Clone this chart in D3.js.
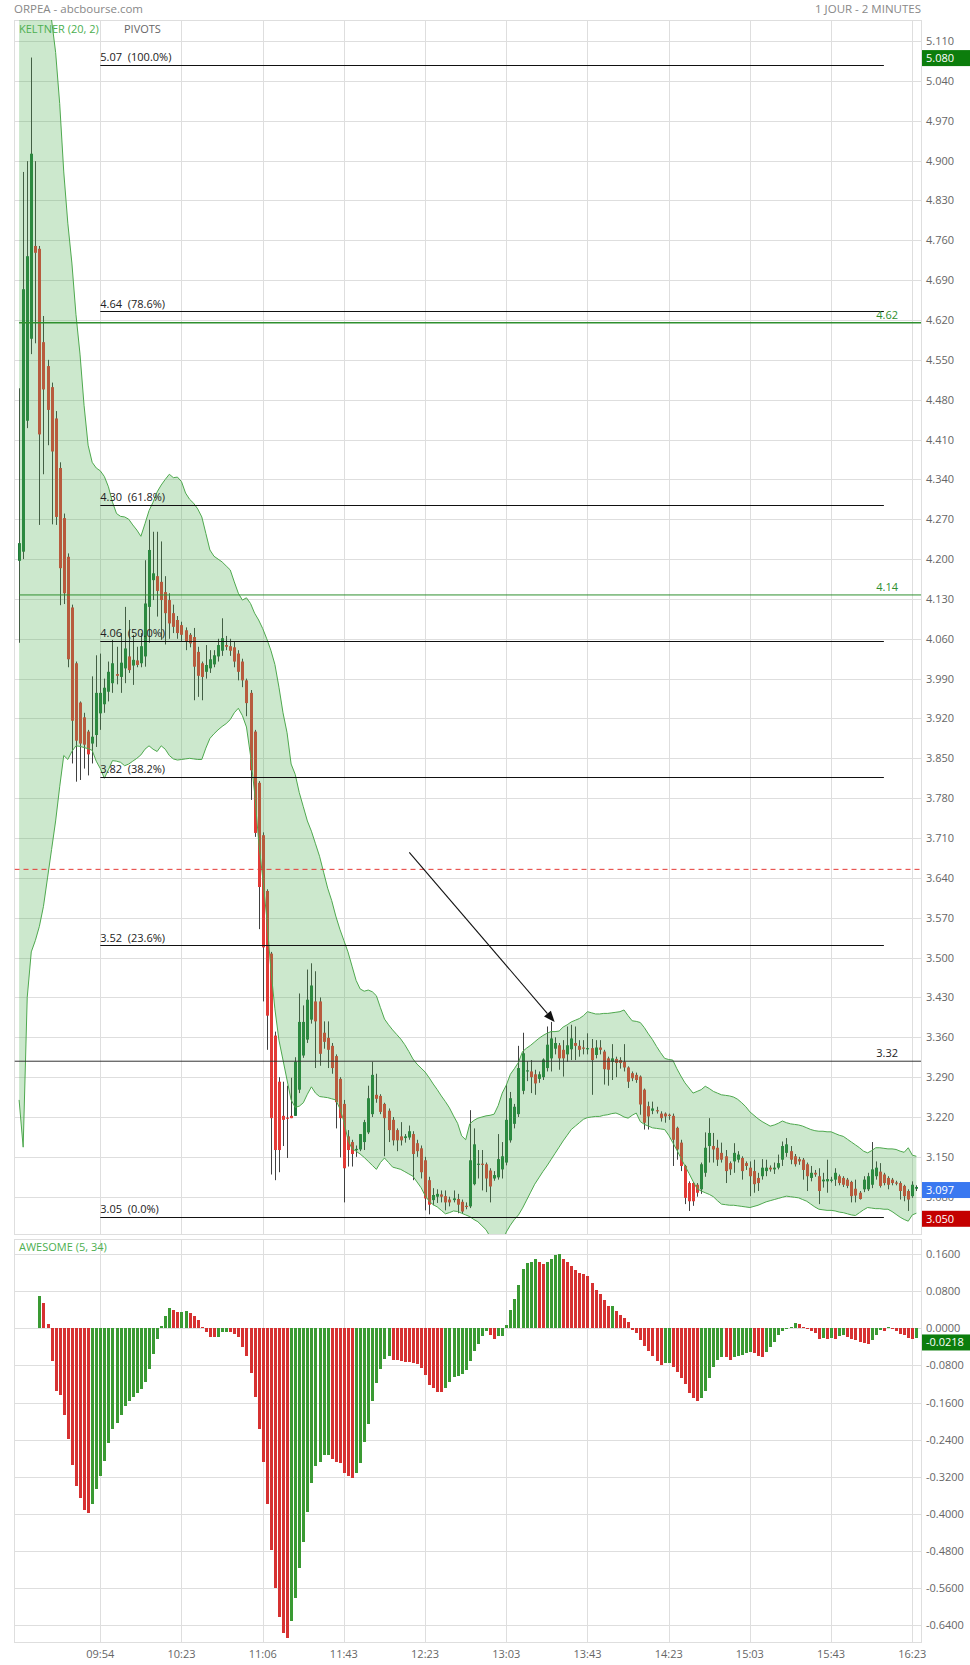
<!DOCTYPE html>
<html><head><meta charset="utf-8">
<script src="https://cdn.jsdelivr.net/npm/d3@7"></script>
<style>
html,body{margin:0;padding:0;background:#fff;}
svg{display:block;font-family:"Open Sans",sans-serif;}
</style></head>
<body><svg id="c" width="970" height="1665"></svg>
<script>
// ---------------- DATA ----------------
const title = "ORPEA - abcbourse.com";
const period = "1 JOUR - 2 MINUTES";
const timeLabels = ["09:54","10:23","11:06","11:43","12:23","13:03","13:43","14:23","15:03","15:43","16:23"];
const timeLabelIdx = [20,40,60,80,100,120,140,160,180,200,220];
const priceTicks = [5.110,5.040,4.970,4.900,4.830,4.760,4.690,4.620,4.550,4.480,4.410,4.340,4.270,4.200,4.130,4.060,3.990,3.920,3.850,3.780,3.710,3.640,3.570,3.500,3.430,3.360,3.290,3.220,3.150,3.080];
const aoTicks = [0.16,0.08,0,-0.08,-0.16,-0.24,-0.32,-0.40,-0.48,-0.56,-0.64];

const open = [4.197,4.213,4.443,4.587,4.750,4.745,4.581,4.539,4.502,4.447,
4.360,4.272,4.204,4.115,4.017,3.948,3.922,3.897,3.876,3.891,
3.929,3.945,3.967,3.982,3.998,3.993,4.008,4.029,4.013,4.022,
4.017,4.029,4.116,4.163,4.170,4.160,4.142,4.128,4.105,4.093,
4.084,4.075,4.067,4.063,4.037,4.017,4.002,4.008,4.015,4.029,
4.039,4.049,4.047,4.045,4.034,4.020,3.987,3.965,3.897,3.807,
3.715,3.617,3.507,3.363,3.282,3.222,3.219,3.222,3.222,3.268,
3.328,3.356,3.391,3.423,3.423,3.368,3.359,3.345,3.327,3.287,
3.243,3.186,3.176,3.162,3.163,3.176,3.193,3.225,3.259,3.257,
3.243,3.231,3.215,3.197,3.186,3.183,3.184,3.190,3.174,3.165,
3.144,3.109,3.074,3.080,3.084,3.081,3.075,3.074,3.076,3.071,
3.064,3.063,3.102,3.137,3.138,3.137,3.126,3.112,3.114,3.128,
3.140,3.179,3.208,3.225,3.266,3.300,3.300,3.295,3.287,3.290,
3.306,3.323,3.340,3.346,3.338,3.330,3.339,3.350,3.345,3.342,
3.339,3.341,3.329,3.342,3.335,3.323,3.317,3.322,3.320,3.317,
3.307,3.297,3.294,3.291,3.268,3.239,3.231,3.232,3.226,3.226,
3.224,3.222,3.201,3.175,3.134,3.104,3.104,3.101,3.093,3.122,
3.169,3.169,3.166,3.157,3.151,3.139,3.142,3.145,3.148,3.139,
3.131,3.125,3.113,3.116,3.125,3.131,3.128,3.131,3.145,3.157,
3.160,3.151,3.146,3.145,3.137,3.113,3.122,3.116,3.107,3.107,
3.109,3.110,3.116,3.113,3.110,3.106,3.094,3.087,3.093,3.093,
3.101,3.116,3.124,3.119,3.113,3.110,3.105,3.104,3.099,3.090,
3.081,3.094];
const high = [4.500,4.880,4.899,5.081,4.899,4.750,4.627,4.550,4.510,4.460,
4.370,4.280,4.210,4.120,4.020,3.950,3.930,3.900,3.994,4.031,
4.034,3.990,4.020,4.058,4.046,4.070,4.116,4.093,4.067,4.046,
4.070,4.198,4.269,4.248,4.248,4.231,4.170,4.140,4.120,4.100,
4.090,4.080,4.070,4.079,4.046,4.020,4.049,4.040,4.040,4.060,
4.096,4.065,4.060,4.055,4.040,4.025,3.990,3.970,3.900,3.810,
3.720,3.620,3.510,3.370,3.290,3.282,3.275,3.289,3.325,3.437,
3.416,3.479,3.490,3.476,3.430,3.388,3.388,3.350,3.330,3.290,
3.250,3.197,3.180,3.170,3.190,3.215,3.275,3.317,3.296,3.260,
3.245,3.235,3.220,3.200,3.211,3.190,3.205,3.195,3.180,3.170,
3.150,3.115,3.095,3.093,3.091,3.091,3.080,3.091,3.085,3.075,
3.070,3.232,3.200,3.162,3.162,3.140,3.130,3.125,3.190,3.176,
3.278,3.264,3.243,3.345,3.368,3.318,3.320,3.303,3.300,3.323,
3.379,3.387,3.360,3.350,3.355,3.379,3.382,3.379,3.355,3.355,
3.367,3.357,3.355,3.355,3.338,3.326,3.348,3.326,3.325,3.348,
3.309,3.300,3.298,3.293,3.270,3.247,3.247,3.238,3.230,3.228,
3.226,3.226,3.203,3.180,3.136,3.107,3.106,3.104,3.140,3.193,
3.218,3.192,3.180,3.175,3.162,3.142,3.174,3.160,3.151,3.142,
3.142,3.145,3.122,3.146,3.145,3.135,3.140,3.154,3.177,3.183,
3.169,3.155,3.150,3.148,3.140,3.134,3.127,3.130,3.122,3.145,
3.115,3.130,3.119,3.116,3.113,3.108,3.110,3.090,3.116,3.122,
3.176,3.142,3.139,3.122,3.116,3.113,3.108,3.107,3.101,3.093,
3.107,3.100];
const low = [4.053,4.200,4.430,4.560,4.579,4.260,4.349,4.400,4.261,4.260,
4.119,4.121,4.010,3.841,3.809,3.812,3.832,3.820,3.841,3.870,
3.900,3.930,3.950,3.965,3.980,3.965,3.982,4.000,3.979,4.010,
4.010,4.011,4.053,4.128,4.099,4.058,4.050,4.060,4.070,4.060,
4.055,4.040,4.045,3.952,3.958,3.952,3.990,4.000,4.010,4.020,
4.030,4.040,4.030,4.010,3.987,3.975,3.924,3.777,3.712,3.550,
3.423,3.338,3.119,3.109,3.123,3.169,3.148,3.218,3.222,3.262,
3.324,3.350,3.384,3.306,3.310,3.340,3.306,3.296,3.200,3.149,
3.070,3.133,3.133,3.150,3.160,3.162,3.190,3.220,3.245,3.225,
3.151,3.176,3.170,3.160,3.170,3.175,3.180,3.109,3.150,3.112,
3.056,3.049,3.065,3.069,3.070,3.056,3.063,3.070,3.051,3.050,
3.058,3.060,3.100,3.112,3.091,3.088,3.070,3.108,3.110,3.112,
3.135,3.175,3.200,3.220,3.260,3.283,3.262,3.259,3.280,3.285,
3.300,3.300,3.330,3.303,3.291,3.317,3.320,3.320,3.326,3.330,
3.330,3.259,3.323,3.330,3.277,3.275,3.285,3.290,3.305,3.300,
3.271,3.283,3.280,3.224,3.198,3.198,3.225,3.226,3.212,3.210,
3.215,3.134,3.145,3.125,3.067,3.055,3.064,3.080,3.085,3.115,
3.140,3.140,3.134,3.140,3.104,3.118,3.122,3.140,3.110,3.127,
3.081,3.087,3.090,3.110,3.116,3.124,3.120,3.128,3.134,3.150,
3.137,3.133,3.136,3.110,3.090,3.107,3.115,3.067,3.096,3.087,
3.105,3.099,3.100,3.097,3.095,3.070,3.070,3.075,3.088,3.090,
3.095,3.110,3.096,3.100,3.093,3.100,3.100,3.075,3.072,3.055,
3.078,3.090];
const close = [4.228,4.674,4.732,4.912,4.738,4.419,4.498,4.462,4.389,4.274,
4.184,4.140,4.024,3.916,3.881,3.876,3.874,3.857,3.888,3.965,
3.965,3.974,4.002,4.017,3.995,4.018,4.043,4.005,4.023,4.014,
4.047,4.122,4.216,4.175,4.144,4.128,4.105,4.087,4.081,4.070,
4.067,4.055,4.052,4.011,3.995,3.993,4.014,4.024,4.031,4.049,
4.061,4.046,4.039,4.020,4.002,3.987,3.947,3.829,3.719,3.624,
3.518,3.398,3.218,3.162,3.162,3.215,3.217,3.218,3.317,3.387,
3.387,3.426,3.451,3.388,3.331,3.352,3.338,3.306,3.246,3.218,
3.130,3.162,3.155,3.164,3.190,3.211,3.253,3.294,3.252,3.229,
3.218,3.197,3.179,3.179,3.179,3.186,3.195,3.155,3.160,3.123,
3.077,3.066,3.083,3.085,3.080,3.070,3.070,3.077,3.066,3.054,
3.063,3.144,3.172,3.138,3.137,3.112,3.098,3.118,3.146,3.151,
3.215,3.253,3.238,3.306,3.332,3.302,3.290,3.279,3.295,3.321,
3.347,3.358,3.350,3.323,3.323,3.346,3.358,3.345,3.338,3.340,
3.341,3.320,3.342,3.338,3.304,3.303,3.323,3.315,3.315,3.307,
3.282,3.288,3.285,3.242,3.210,3.221,3.235,3.231,3.218,3.221,
3.222,3.180,3.163,3.134,3.078,3.072,3.072,3.087,3.137,3.166,
3.192,3.163,3.145,3.145,3.125,3.128,3.157,3.154,3.125,3.134,
3.116,3.102,3.104,3.131,3.131,3.128,3.131,3.139,3.169,3.172,
3.145,3.137,3.142,3.127,3.116,3.122,3.119,3.090,3.110,3.111,
3.110,3.122,3.104,3.101,3.099,3.081,3.082,3.076,3.110,3.116,
3.128,3.131,3.099,3.104,3.101,3.104,3.103,3.090,3.081,3.075,
3.101,3.097];

// Keltner (20, 2) channel, upper / lower
const keltnerUpper = [5.80,5.70,5.60,5.52,5.45,5.38,5.30,5.22,5.147,5.09,
5.00,4.88,4.79,4.72,4.63,4.56,4.47,4.40,4.37,4.36,
4.355,4.345,4.327,4.30,4.28,4.275,4.274,4.270,4.26,4.251,
4.240,4.262,4.285,4.300,4.318,4.330,4.340,4.349,4.343,4.344,
4.336,4.316,4.305,4.298,4.288,4.274,4.245,4.216,4.205,4.200,
4.195,4.188,4.181,4.160,4.140,4.128,4.132,4.122,4.105,4.093,
4.078,4.060,4.040,4.015,3.975,3.930,3.895,3.840,3.822,3.790,
3.765,3.740,3.722,3.700,3.678,3.650,3.622,3.600,3.573,3.550,
3.530,3.510,3.485,3.460,3.445,3.441,3.443,3.440,3.433,3.412,
3.392,3.382,3.373,3.365,3.357,3.347,3.335,3.322,3.313,3.306,
3.299,3.289,3.278,3.268,3.257,3.247,3.236,3.222,3.209,3.187,
3.180,3.208,3.214,3.218,3.220,3.222,3.223,3.225,3.240,3.262,
3.276,3.295,3.305,3.316,3.335,3.341,3.346,3.352,3.358,3.363,
3.367,3.370,3.370,3.371,3.378,3.382,3.387,3.390,3.393,3.398,
3.405,3.403,3.401,3.401,3.402,3.402,3.403,3.404,3.405,3.408,
3.398,3.389,3.388,3.386,3.377,3.366,3.356,3.344,3.333,3.323,
3.321,3.320,3.305,3.292,3.280,3.271,3.262,3.265,3.268,3.274,
3.270,3.265,3.262,3.259,3.258,3.257,3.255,3.251,3.245,3.238,
3.229,3.223,3.217,3.212,3.208,3.204,3.206,3.209,3.213,3.210,
3.208,3.207,3.206,3.204,3.201,3.198,3.196,3.195,3.195,3.194,
3.194,3.191,3.188,3.186,3.181,3.176,3.171,3.166,3.160,3.157,
3.161,3.166,3.166,3.165,3.164,3.164,3.163,3.160,3.158,3.166,
3.153,3.151];
const keltnerLower = [3.25,3.167,3.43,3.51,3.53,3.555,3.59,3.64,3.69,3.74,
3.80,3.855,3.848,3.862,3.872,3.871,3.869,3.867,3.864,3.845,
3.832,3.815,3.830,3.846,3.845,3.843,3.837,3.840,3.845,3.850,
3.856,3.866,3.872,3.866,3.862,3.872,3.866,3.855,3.849,3.847,
3.848,3.849,3.850,3.849,3.848,3.848,3.868,3.885,3.893,3.900,
3.906,3.911,3.918,3.930,3.938,3.925,3.905,3.855,3.790,3.705,
3.640,3.570,3.480,3.410,3.355,3.320,3.285,3.250,3.237,3.239,
3.245,3.260,3.273,3.262,3.256,3.255,3.254,3.252,3.250,3.235,
3.212,3.180,3.164,3.160,3.155,3.149,3.142,3.135,3.128,3.140,
3.148,3.140,3.132,3.130,3.128,3.124,3.120,3.116,3.106,3.096,
3.082,3.072,3.066,3.062,3.056,3.050,3.052,3.055,3.054,3.051,
3.048,3.045,3.040,3.036,3.029,3.022,3.010,3.000,2.995,3.000,
3.018,3.030,3.040,3.048,3.060,3.074,3.088,3.102,3.113,3.124,
3.134,3.145,3.156,3.167,3.178,3.188,3.198,3.204,3.210,3.216,
3.219,3.220,3.221,3.221,3.223,3.224,3.226,3.227,3.224,3.220,
3.218,3.223,3.227,3.212,3.207,3.204,3.201,3.200,3.199,3.198,
3.188,3.175,3.162,3.148,3.134,3.121,3.107,3.094,3.090,3.087,
3.084,3.080,3.073,3.067,3.066,3.065,3.065,3.064,3.063,3.062,
3.061,3.063,3.065,3.068,3.071,3.073,3.075,3.077,3.079,3.081,
3.080,3.079,3.078,3.075,3.072,3.067,3.062,3.058,3.057,3.056,
3.056,3.055,3.053,3.052,3.050,3.048,3.047,3.052,3.057,3.061,
3.060,3.059,3.059,3.058,3.058,3.054,3.049,3.044,3.040,3.037,
3.048,3.051];

// Awesome oscillator (5, 34); first 5 candles have no value
const awesome = [null,null,null,null,null,0.0697,0.0547,0.0093,-0.0697,-0.135,
-0.144,-0.187,-0.239,-0.295,-0.339,-0.365,-0.391,-0.398,-0.378,-0.346,
-0.318,-0.285,-0.247,-0.217,-0.203,-0.187,-0.167,-0.157,-0.147,-0.139,
-0.130,-0.115,-0.087,-0.055,-0.024,0.006,0.027,0.044,0.040,0.035,
0.036,0.037,0.033,0.027,0.018,0.003,-0.007,-0.018,-0.019,-0.018,
-0.008,-0.007,-0.008,-0.012,-0.018,-0.040,-0.059,-0.096,-0.147,-0.216,
-0.288,-0.379,-0.478,-0.560,-0.622,-0.656,-0.667,-0.631,-0.581,-0.516,
-0.460,-0.395,-0.333,-0.296,-0.288,-0.273,-0.272,-0.281,-0.288,-0.290,
-0.311,-0.318,-0.322,-0.311,-0.290,-0.244,-0.206,-0.156,-0.117,-0.087,
-0.065,-0.059,-0.068,-0.069,-0.070,-0.072,-0.073,-0.074,-0.076,-0.085,
-0.100,-0.122,-0.128,-0.137,-0.138,-0.128,-0.115,-0.104,-0.102,-0.098,
-0.089,-0.070,-0.048,-0.033,-0.016,-0.005,-0.014,-0.022,-0.017,-0.016,
0.007,0.040,0.063,0.094,0.128,0.140,0.143,0.150,0.143,0.138,
0.143,0.150,0.159,0.160,0.150,0.143,0.135,0.126,0.120,0.118,
0.113,0.097,0.083,0.074,0.061,0.048,0.049,0.037,0.028,0.022,
0.014,-0.004,-0.009,-0.025,-0.038,-0.048,-0.060,-0.070,-0.078,-0.075,
-0.074,-0.083,-0.093,-0.106,-0.120,-0.139,-0.151,-0.156,-0.150,-0.134,
-0.106,-0.083,-0.068,-0.061,-0.062,-0.068,-0.061,-0.059,-0.057,-0.054,
-0.050,-0.054,-0.059,-0.061,-0.052,-0.040,-0.029,-0.014,-0.005,-0.001,
0.004,0.011,0.009,0.004,-0.001,-0.006,-0.011,-0.022,-0.021,-0.022,
-0.021,-0.022,-0.016,-0.015,-0.018,-0.022,-0.025,-0.029,-0.032,-0.033,
-0.025,-0.014,-0.004,-0.005,0.003,0.000,-0.006,-0.012,-0.015,-0.020,
-0.023,-0.0218];

// Fibonacci retracement levels
const fibPrices = [5.068,4.635,4.295,4.0565,3.818,3.522,3.045];
const fibLabels = ["5.07  (100.0%)","4.64  (78.6%)","4.30  (61.8%)","4.06  (50.0%)","3.82  (38.2%)","3.52  (23.6%)","3.05  (0.0%)"];
const fibRange = [20, 213];           // candle index span of the retracement
// Pivots
const pivotPrices = [4.615, 4.137];
const pivotLabels = ["4.62", "4.14"];
const levelPrice = 3.318, levelLabel = "3.32";
const refPrice = 3.655;               // dashed reference line
const lastPrice = 3.097, lowPrice = 3.050, highPrice = 5.080, lastAO = -0.0218;
const arrowFrom = {i: 96.1, p: 3.685}, arrowTo = {i: 131.9, p: 3.387};

// ---------------- LAYOUT ----------------
const L = 14.5, R = 921;
const mainTop = 20, mainBot = 1234;
const aoTop = 1239, aoBot = 1642;
const svg = d3.select("#c");

const x = d3.scaleLinear().domain([0, 221]).range([19.1, 19.1 + 221 * 4.06]);
const y = d3.scaleLinear().domain([3.0145, 5.1469]).range([mainBot, mainTop]);
const ya = d3.scaleLinear().domain([-0.676, 0.1926]).range([aoBot, aoTop]);
const n = open.length;
const idx = d3.range(n);

const gridC = "#dedede", textC = "#666";

// header
svg.append("text").attr("x", 14).attr("y", 13).attr("font-size", 11.5).attr("fill", "#888").text(title);
svg.append("text").attr("x", R).attr("y", 13).attr("text-anchor", "end").attr("font-size", 11.5).attr("fill", "#888").text(period);

// clip paths
const defs = svg.append("defs");
defs.append("clipPath").attr("id", "mclip").append("rect").attr("x", L).attr("y", mainTop).attr("width", R - L).attr("height", mainBot - mainTop);
defs.append("clipPath").attr("id", "aclip").append("rect").attr("x", L).attr("y", aoTop).attr("width", R - L).attr("height", aoBot - aoTop);

function panelGrid(top, bot, scale, ticks) {
  const g = svg.append("g").attr("shape-rendering", "crispEdges");
  g.selectAll(".v").data(timeLabelIdx).join("line")
    .attr("x1", d => Math.round(x(d)) + 0.5).attr("x2", d => Math.round(x(d)) + 0.5)
    .attr("y1", top).attr("y2", bot).attr("stroke", gridC);
  g.selectAll(".h").data(ticks).join("line")
    .attr("x1", L).attr("x2", R)
    .attr("y1", d => Math.round(scale(d)) + 0.5).attr("y2", d => Math.round(scale(d)) + 0.5)
    .attr("stroke", gridC);
  g.append("rect").attr("x", L).attr("y", top).attr("width", R - L).attr("height", bot - top)
    .attr("fill", "none").attr("stroke", gridC);
}
panelGrid(mainTop, mainBot, y, priceTicks);
panelGrid(aoTop, aoBot, ya, aoTicks);

// ---------- main panel ----------
const main = svg.append("g").attr("clip-path", "url(#mclip)");

// candles
const cg = main.append("g");
cg.selectAll("line.w").data(idx).join("line")
  .attr("x1", i => Math.round(x(i)) + 0.5).attr("x2", i => Math.round(x(i)) + 0.5)
  .attr("y1", i => y(high[i])).attr("y2", i => y(low[i]))
  .attr("stroke", "#404040").attr("stroke-width", 1);
cg.selectAll("rect.b").data(idx).join("rect")
  .attr("x", i => Math.round(x(i)) - 1).attr("width", 3)
  .attr("y", i => y(Math.max(open[i], close[i])))
  .attr("height", i => Math.max(1.2, Math.abs(y(open[i]) - y(close[i]))))
  .attr("fill", i => close[i] >= open[i] ? "#1f7a3a" : "#e23a36");

// Keltner band (semi-transparent, over candles)
main.append("path").datum(idx)
  .attr("d", d3.area().x(i => x(i)).y0(i => y(keltnerLower[i])).y1(i => y(keltnerUpper[i])))
  .attr("fill", "rgba(76,175,80,0.285)");
main.append("path").datum(idx)
  .attr("d", d3.line().x(i => x(i)).y(i => y(keltnerUpper[i])))
  .attr("fill", "none").attr("stroke", "#4ea84e").attr("stroke-width", 1);
main.append("path").datum(idx)
  .attr("d", d3.line().x(i => x(i)).y(i => y(keltnerLower[i])))
  .attr("fill", "none").attr("stroke", "#4ea84e").attr("stroke-width", 1);

// reference dashed line
main.append("line").attr("x1", L).attr("x2", R).attr("y1", y(refPrice)).attr("y2", y(refPrice))
  .attr("stroke", "#e53935").attr("stroke-width", 1).attr("stroke-dasharray", "5,4");

// pivots
pivotPrices.forEach((p, k) => {
  main.append("line").attr("x1", x(0)).attr("x2", R).attr("y1", y(p)).attr("y2", y(p))
    .attr("stroke", "#2f8f2f").attr("stroke-width", k === 0 ? 1.6 : 1);
  svg.append("text").attr("x", 898).attr("y", y(p) - 4).attr("text-anchor", "end")
    .attr("font-size", 11).attr("fill", "#2f8f2f").text(pivotLabels[k]);
});
main.append("line").attr("x1", L).attr("x2", R).attr("y1", y(levelPrice)).attr("y2", y(levelPrice))
  .attr("stroke", "#333").attr("stroke-width", 1);
svg.append("text").attr("x", 898).attr("y", y(levelPrice) - 4).attr("text-anchor", "end")
  .attr("font-size", 11).attr("fill", "#222").text(levelLabel);

// fib lines
fibPrices.forEach((p, k) => {
  main.append("line").attr("x1", x(fibRange[0])).attr("x2", x(fibRange[1]))
    .attr("y1", Math.round(y(p)) + 0.5).attr("y2", Math.round(y(p)) + 0.5)
    .attr("stroke", "#111").attr("stroke-width", 1.2);
  svg.append("text").attr("x", x(fibRange[0])).attr("y", y(p) - 3.5)
    .attr("font-size", 11).attr("fill", "#222").style("white-space", "pre").text(fibLabels[k]);
});

// arrow
{
  const x1 = x(arrowFrom.i), y1 = y(arrowFrom.p), x2 = x(arrowTo.i), y2 = y(arrowTo.p);
  const ang = Math.atan2(y2 - y1, x2 - x1), len = 11, wid = 4.5;
  const bx = x2 - len * Math.cos(ang), by = y2 - len * Math.sin(ang);
  main.append("line").attr("x1", x1).attr("y1", y1).attr("x2", bx).attr("y2", by)
    .attr("stroke", "#111").attr("stroke-width", 1.1);
  main.append("path").attr("d", `M${x2},${y2}L${bx - wid * Math.sin(ang)},${by + wid * Math.cos(ang)}L${bx + wid * Math.sin(ang)},${by - wid * Math.cos(ang)}Z`)
    .attr("fill", "#111");
}

// legend texts
svg.append("text").attr("x", 19).attr("y", 33).attr("font-size", 11).attr("fill", "#4caf50").text("KELTNER (20, 2)");
svg.append("text").attr("x", 124).attr("y", 33).attr("font-size", 11).attr("fill", "#666").text("PIVOTS");

// price axis labels
svg.append("g").selectAll("text").data(priceTicks).join("text")
  .attr("x", 926).attr("y", d => y(d) + 4).attr("font-size", 11).attr("fill", textC)
  .text(d => d.toFixed(3));

function valueBox(yc, label, color) {
  svg.append("rect").attr("x", 922).attr("y", yc - 8).attr("width", 48).attr("height", 16).attr("fill", color);
  svg.append("text").attr("x", 926).attr("y", yc + 4).attr("font-size", 11).attr("fill", "#fff").text(label);
}
valueBox(y(highPrice), highPrice.toFixed(3), "#0c7d0c");
valueBox(y(lastPrice) + 3, lastPrice.toFixed(3), "#3a78f0");
valueBox(y(lowPrice) + 5, lowPrice.toFixed(3), "#c40000");

// ---------- awesome oscillator ----------
const ag = svg.append("g").attr("clip-path", "url(#aclip)").attr("shape-rendering", "crispEdges");
const aoIdx = idx.filter(i => awesome[i] !== null);
ag.selectAll("rect").data(aoIdx).join("rect")
  .attr("x", i => Math.round(x(i)) - 1).attr("width", 3)
  .attr("y", i => ya(Math.max(0, awesome[i])))
  .attr("height", i => Math.max(1, Math.abs(ya(awesome[i]) - ya(0))))
  .attr("fill", i => (awesome[i - 1] == null || awesome[i] > awesome[i - 1]) ? "#3a9a33" : "#d63131");

svg.append("text").attr("x", 19).attr("y", 1251).attr("font-size", 11).attr("fill", "#4caf50").text("AWESOME (5, 34)");

svg.append("g").selectAll("text").data(aoTicks).join("text")
  .attr("x", 926).attr("y", d => ya(d) + 4).attr("font-size", 11).attr("fill", textC)
  .text(d => d.toFixed(4));
valueBox(ya(lastAO) + 4, lastAO.toFixed(4), "#0c7d0c");

// time axis
svg.append("g").selectAll("text").data(timeLabelIdx).join("text")
  .attr("x", d => x(d)).attr("y", 1658).attr("text-anchor", "middle")
  .attr("font-size", 11).attr("fill", textC)
  .text((d, k) => timeLabels[k]);
</script>
</body></html>
